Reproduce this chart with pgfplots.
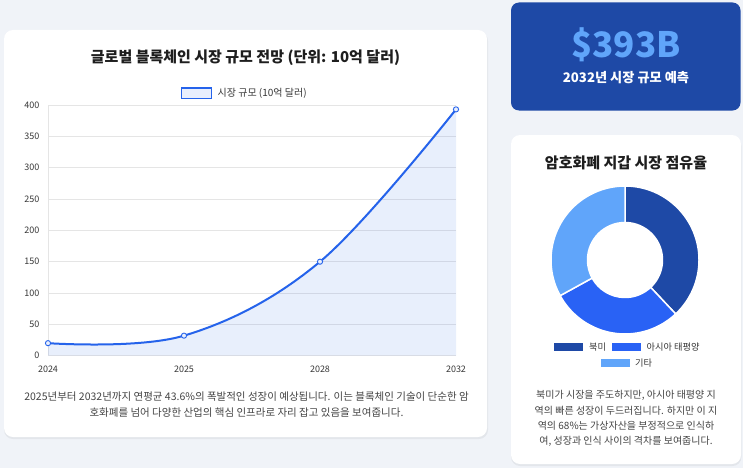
\documentclass[border=0pt]{standalone}
\usepackage{fontspec}
\setmainfont{Noto Sans CJK KR}
\usepackage{pgfplots}
\usepackage{pgfplotstable}
\pgfplotsset{compat=1.18}

\definecolor{bg}{RGB}{240,243,248}
\definecolor{darkblue}{RGB}{30,73,166}
\definecolor{brightblue}{RGB}{41,98,245}
\definecolor{lightblue}{RGB}{96,165,250}
\definecolor{linec}{RGB}{37,99,235}
\definecolor{fillc}{RGB}{233,239,253}
\definecolor{gridc}{RGB}{229,229,229}
\definecolor{tickc}{RGB}{55,55,55}
\definecolor{titlec}{RGB}{30,30,30}
\definecolor{descc}{RGB}{68,68,68}

\pgfplotstableread{
year value
0 20
1 32
2 150
3 393
}\marketdata

\pgfplotstableread{
idx share
0 38
1 29
2 33
}\sharedata

\begin{document}
\begin{tikzpicture}[x=1pt,y=1pt]
% background
\fill[bg] (0,0) rectangle (743,-468);
% left card
\fill[black,opacity=0.05,rounded corners=9pt] (4,-32) rectangle (488,-439);
\fill[white,rounded corners=9pt] (4,-30) rectangle (487,-437);
% KPI card
\fill[darkblue,rounded corners=8pt] (511,-2.5) rectangle (740.5,-110.5);
% right card
\fill[black,opacity=0.05,rounded corners=9pt] (511,-137) rectangle (741.5,-466);
\fill[white,rounded corners=9pt] (511,-135) rectangle (741,-464);

% left title
\node[font=\bfseries\fontsize{15}{18}\selectfont, text=titlec] at (245.5,-58) {글로벌 블록체인 시장 규모 전망 (단위: 10억 달러)};
% legend
\draw[linec, line width=1.4pt, fill=fillc] (181.5,-88) rectangle (211.5,-98.5);
\node[anchor=west, font=\fontsize{10}{12}\selectfont, text=tickc, inner sep=0] at (217.5,-93) {시장 규모 (10억 달러)};

\begin{axis}[
  at={(48pt,-355.7pt)}, anchor=south west,
  scale only axis, width=408pt, height=250.7pt,
  xmin=0, xmax=3, ymin=0, ymax=400,
  xtick={0,1,2,3}, xticklabels={2024,2025,2028,2032},
  ytick={0,50,...,400},
  ymajorgrids, grid style={draw=gridc, line width=0.7pt},
  axis x line*=bottom, axis y line*=left,
  axis line style={draw=gridc, line width=0.8pt},
  major tick length=0pt,
  tick label style={font=\fontsize{9}{11}\selectfont, text=tickc},
  xticklabel style={yshift=-6.5pt},
  yticklabel style={xshift=-5pt},
  /pgf/number format/assume math mode=true,
  clip=false,
]
\addplot[draw=none, fill=linec, fill opacity=0.1, smooth, tension=0.6] table[x=year,y=value]{\marketdata} \closedcycle;
\addplot[draw=linec, line width=2pt, smooth, tension=0.6, mark=*, mark size=2.6pt,
  mark options={fill=fillc, draw=linec, line width=0.9pt}] table[x=year,y=value]{\marketdata};
\end{axis}

% left description
\node[font=\fontsize{10.5}{12}\selectfont, text=descc] at (246.5,-397) {2025년부터 2032년까지 연평균 43.6\%의 폭발적인 성장이 예상됩니다. 이는 블록체인 기술이 단순한 암};
\node[font=\fontsize{10.5}{12}\selectfont, text=descc] at (246.5,-412.5) {호화폐를 넘어 다양한 산업의 핵심 인프라로 자리 잡고 있음을 보여줍니다.};

% KPI
\node[font=\bfseries\fontsize{35}{40}\selectfont, text=lightblue] at (626,-45) {\$393B};
\node[font=\bfseries\fontsize{13.2}{15}\selectfont, text=white] at (626,-78) {2032년 시장 규모 예측};

% right title
\node[font=\bfseries\fontsize{15}{18}\selectfont, text=titlec] at (626,-163) {암호화폐 지갑 시장 점유율};

% donut
\pgfplotstablegetelem{0}{share}\of\sharedata \edef\sa{\pgfplotsretval}
\pgfplotstablegetelem{1}{share}\of\sharedata \edef\sb{\pgfplotsretval}
\pgfplotstablegetelem{2}{share}\of\sharedata \edef\sc{\pgfplotsretval}
\pgfmathsetmacro\aA{90}
\pgfmathsetmacro\aB{90-3.6*\sa}
\pgfmathsetmacro\aC{\aB-3.6*\sb}
\pgfmathsetmacro\aD{\aC-3.6*\sc}
\begin{axis}[at={(625pt,-260pt)}, anchor=center, hide axis, scale only axis,
  width=148pt, height=148pt, xmin=-1, xmax=1, ymin=-1, ymax=1, clip=false]
\addplot[draw=none] coordinates {(0,0)};
\coordinate (dc) at (axis cs:0,0);
\fill[darkblue, draw=white, line width=1.5pt, shift={(dc)}] (\aA:74pt) arc[start angle=\aA, end angle=\aB, radius=74pt] -- (\aB:37.5pt) arc[start angle=\aB, end angle=\aA, radius=37.5pt] -- cycle;
\fill[brightblue, draw=white, line width=1.5pt, shift={(dc)}] (\aB:74pt) arc[start angle=\aB, end angle=\aC, radius=74pt] -- (\aC:37.5pt) arc[start angle=\aC, end angle=\aB, radius=37.5pt] -- cycle;
\fill[lightblue, draw=white, line width=1.5pt, shift={(dc)}] (\aC:74pt) arc[start angle=\aC, end angle=\aD, radius=74pt] -- (\aD:37.5pt) arc[start angle=\aD, end angle=\aC, radius=37.5pt] -- cycle;
\end{axis}

% donut legend
\fill[darkblue] (554,-343) rectangle (583,-351);
\node[anchor=west, font=\fontsize{9.2}{11}\selectfont, text=tickc, inner sep=0] at (589,-347) {북미};
\fill[brightblue] (612,-343) rectangle (641,-351);
\node[anchor=west, font=\fontsize{9.2}{11}\selectfont, text=tickc, inner sep=0] at (646.5,-347) {아시아 태평양};
\fill[lightblue] (601,-359) rectangle (630,-367);
\node[anchor=west, font=\fontsize{9.2}{11}\selectfont, text=tickc, inner sep=0] at (635,-363) {기타};

% right description
\foreach \yy/\tt in {395/{북미가 시장을 주도하지만, 아시아 태평양 지},410.3/{역의 빠른 성장이 두드러집니다. 하지만 이 지},425.6/{역의 68\%는 가상자산을 부정적으로 인식하},440.9/{여, 성장과 인식 사이의 격차를 보여줍니다.}}
  \node[font=\fontsize{10}{12}\selectfont, text=descc] at (626,-\yy) {\tt};

\pgfresetboundingbox
\useasboundingbox (0,0) rectangle (743,-468);
\end{tikzpicture}
\end{document}
